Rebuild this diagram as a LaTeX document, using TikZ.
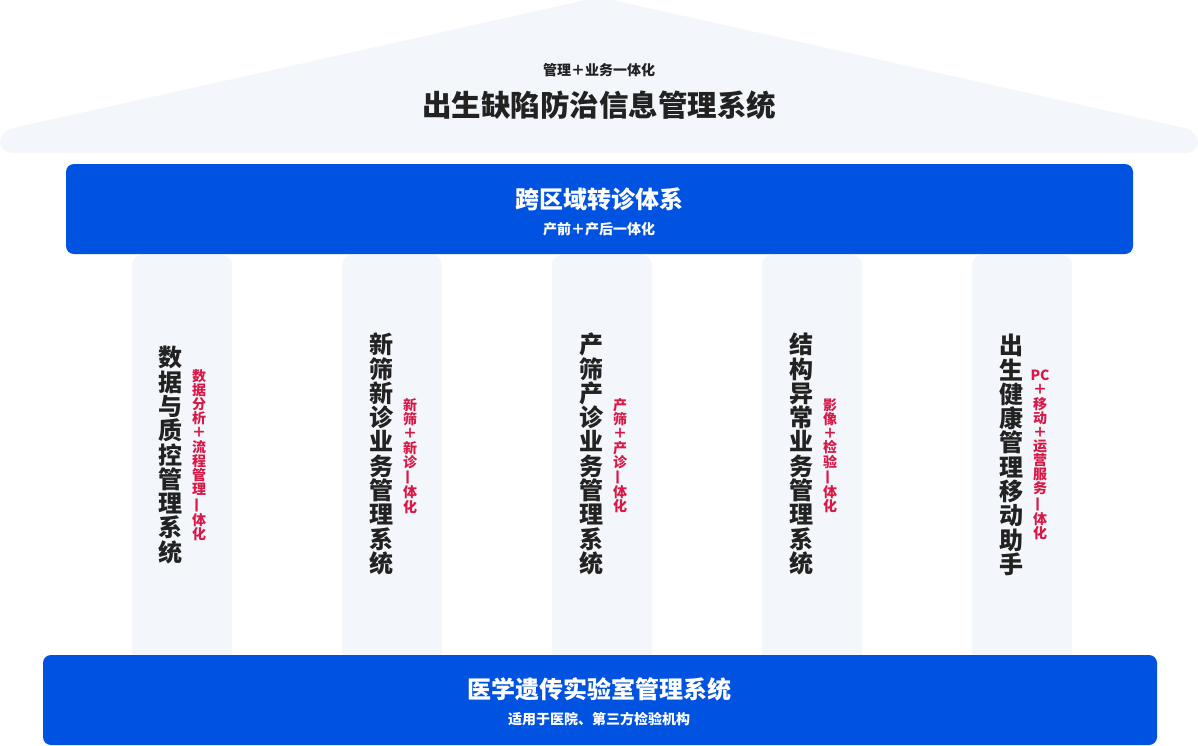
\documentclass[tikz,border=0pt]{standalone}
\usepackage{fontspec}
\usepackage{graphicx}
\setmainfont{Noto Sans CJK SC}
\definecolor{bluebar}{RGB}{0,82,224}
\definecolor{lightbg}{RGB}{243,247,251}
\definecolor{darktext}{RGB}{34,34,34}
\definecolor{redtext}{RGB}{216,24,70}
\newcommand\vone{\rotatebox[origin=c]{90}{一}}
\tikzset{
  pillarbox/.style={fill=lightbg, rounded corners=10pt},
  barbox/.style={fill=bluebar, rounded corners=8pt},
  vmain/.style={font=\fontsize{24}{24.3}\selectfont\bfseries, text=darktext, align=center, inner sep=0pt},
  vred/.style={font=\fontsize{14}{14.1}\selectfont\bfseries, text=redtext, align=center, inner sep=0pt},
  titlebig/.style={font=\fontsize{29.5}{30}\selectfont\bfseries, text=darktext, inner sep=0pt},
  subdark/.style={font=\fontsize{14}{15}\selectfont\bfseries, text=darktext, inner sep=0pt},
  barbig/.style={font=\fontsize{24}{25}\selectfont\bfseries, text=white, inner sep=0pt},
  barsub/.style={font=\fontsize{14}{15}\selectfont\bfseries, text=white, inner sep=0pt},
}
\begin{document}
\begin{tikzpicture}[x=1pt,y=-1pt]
\useasboundingbox (0,0) rectangle (1198,745);
% roof
\fill[lightbg, rounded corners=12pt] (0,153) -- (0,131) -- (599,-3) -- (1198,131) -- (1198,153) -- cycle;
\node[subdark] (roofsub) at (599,70) {管理＋业务一体化};
\node[titlebig] (rooftitle) at (599,105) {出生缺陷防治信息管理系统};
% pillars
\foreach \px/\nm in {132/p1,342/p2,552/p3,762/p4,972/p5}{
  \fill[pillarbox] (\px,255) rectangle (\px+100,670);
}
% top bar
\fill[barbox] (66,164) rectangle (1133,254);
\node[barbig] (toptitle) at (599,199) {跨区域转诊体系};
\node[barsub] (topsub) at (599,229) {产前＋产后一体化};
% bottom bar
\fill[barbox] (43,655) rectangle (1157,745);
\node[barbig] (bottitle) at (599,689) {医学遗传实验室管理系统};
\node[barsub] (botsub) at (599,719) {适用于医院、第三方检验机构};
% pillar texts
\node[vmain] (m1) at (170.5,455) {数\\据\\与\\质\\控\\管\\理\\系\\统};
\node[vred] (r1) at (199,455) {数\\据\\分\\析\\＋\\流\\程\\管\\理\\\vone\\体\\化};
\node[vmain] (m2) at (381,454) {新\\筛\\新\\诊\\业\\务\\管\\理\\系\\统};
\node[vred] (r2) at (410,456) {新\\筛\\＋\\新\\诊\\\vone\\体\\化};
\node[vmain] (m3) at (591,454) {产\\筛\\产\\诊\\业\\务\\管\\理\\系\\统};
\node[vred] (r3) at (620,456) {产\\筛\\＋\\产\\诊\\\vone\\体\\化};
\node[vmain] (m4) at (801,454) {结\\构\\异\\常\\业\\务\\管\\理\\系\\统};
\node[vred] (r4) at (830,456) {影\\像\\＋\\检\\验\\\vone\\体\\化};
\node[vmain] (m5) at (1011,455) {出\\生\\健\\康\\管\\理\\移\\动\\助\\手};
\node[vred] (r5) at (1040,455) {PC\\＋\\移\\动\\＋\\运\\营\\服\\务\\\vone\\体\\化};
\end{tikzpicture}
\end{document}
